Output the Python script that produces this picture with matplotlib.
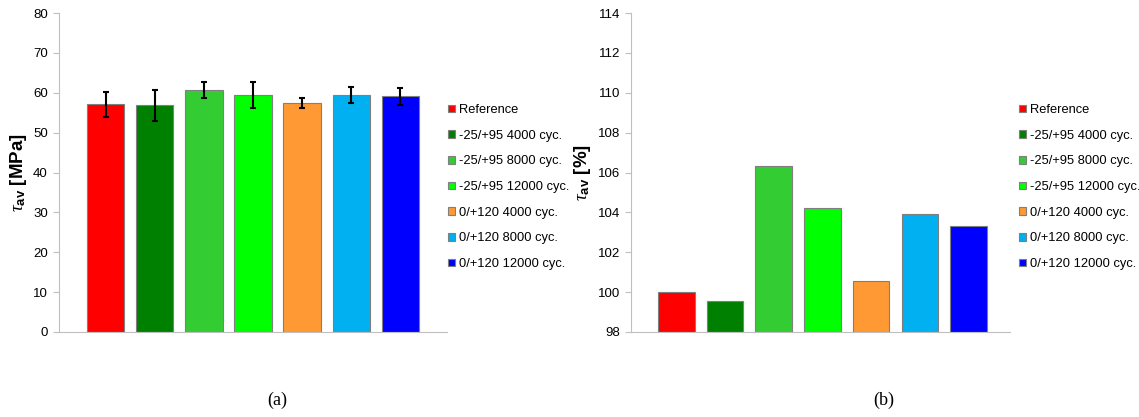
import numpy as np
import matplotlib.pyplot as plt

plt.rcParams['font.family'] = ['Liberation Sans', 'DejaVu Sans']
plt.rcParams['mathtext.fontset'] = 'custom'
plt.rcParams['mathtext.rm'] = 'Liberation Sans'
plt.rcParams['mathtext.it'] = 'Liberation Serif:italic'
plt.rcParams['mathtext.bf'] = 'Liberation Sans:bold'

# data
labels = ['Reference', '-25/+95 4000 cyc.', '-25/+95 8000 cyc.', '-25/+95 12000 cyc.',
          '0/+120 4000 cyc.', '0/+120 8000 cyc.', '0/+120 12000 cyc.']
colors = ['#ff0000', '#008000', '#33cc33', '#00ff00', '#ff9933', '#00b0f0', '#0000ff']
tau_mpa = [57.1, 56.9, 60.8, 59.5, 57.4, 59.4, 59.1]
tau_err = [3.1, 3.9, 2.0, 3.3, 1.3, 2.0, 2.2]
tau_pct = [100.0, 99.55, 106.35, 104.2, 100.57, 103.93, 103.34]

W, H = 1139, 417
fig = plt.figure(figsize=(W / 100, H / 100), dpi=100)

ax1 = fig.add_axes([59 / W, 1 - 332 / H, 388 / W, 319 / H])
ax2 = fig.add_axes([631 / W, 1 - 332 / H, 379 / W, 319 / H])

x = np.arange(len(labels))
grey = '#bfbfbf'

for i in range(len(labels)):
    ax1.bar(x[i], tau_mpa[i], width=0.76, color=colors[i], edgecolor='#7f7f7f',
            linewidth=0.8, label=labels[i], zorder=2)
ax1.errorbar(x, tau_mpa, yerr=tau_err, fmt='none', ecolor='black', elinewidth=1.5,
             capsize=2.5, capthick=1.5, zorder=3)

for i in range(len(labels)):
    ax2.bar(x[i], tau_pct[i] - 98, bottom=98, width=0.75, color=colors[i],
            edgecolor='#7f7f7f', linewidth=0.8, label=labels[i], zorder=2)

ax1.set_xlim(-0.95, 6.95)
ax1.set_ylim(0, 80)
ax1.set_yticks(np.arange(0, 81, 10))
ax2.set_xlim(-0.93, 6.85)
ax2.set_ylim(98, 114)
ax2.set_yticks(np.arange(98, 115, 2))

for ax in (ax1, ax2):
    ax.spines['top'].set_visible(False)
    ax.spines['right'].set_visible(False)
    ax.spines['left'].set_color(grey)
    ax.spines['bottom'].set_color(grey)
    ax.set_xticks([])
    ax.tick_params(axis='y', colors=grey, length=4, width=0.8, labelsize=9.5,
                   labelcolor='black', pad=4)

ax1.set_ylabel(r'$\mathit{\tau}_{\mathbf{av}}$ [MPa]', fontsize=13.5, fontweight='bold', labelpad=3)
ax2.set_ylabel(r'$\mathit{\tau}_{\mathbf{av}}$ [%]', fontsize=13.5, fontweight='bold', labelpad=3)

leg_kw = dict(loc='upper left', frameon=False, fontsize=9.3, handlelength=0.55,
              handleheight=0.55, handletextpad=0.3, labelspacing=1.06,
              borderaxespad=0, borderpad=0)
ax1.legend(bbox_to_anchor=(448 / W, 1 - 104 / H), bbox_transform=fig.transFigure, **leg_kw)
ax2.legend(bbox_to_anchor=(1019 / W, 1 - 104 / H), bbox_transform=fig.transFigure, **leg_kw)

fig.text(277 / W, 1 - 400 / H, '(a)', ha='center', va='center', fontsize=13,
         family='Liberation Serif')
fig.text(884 / W, 1 - 400 / H, '(b)', ha='center', va='center', fontsize=13,
         family='Liberation Serif')

fig.savefig('out.png', dpi=100)
